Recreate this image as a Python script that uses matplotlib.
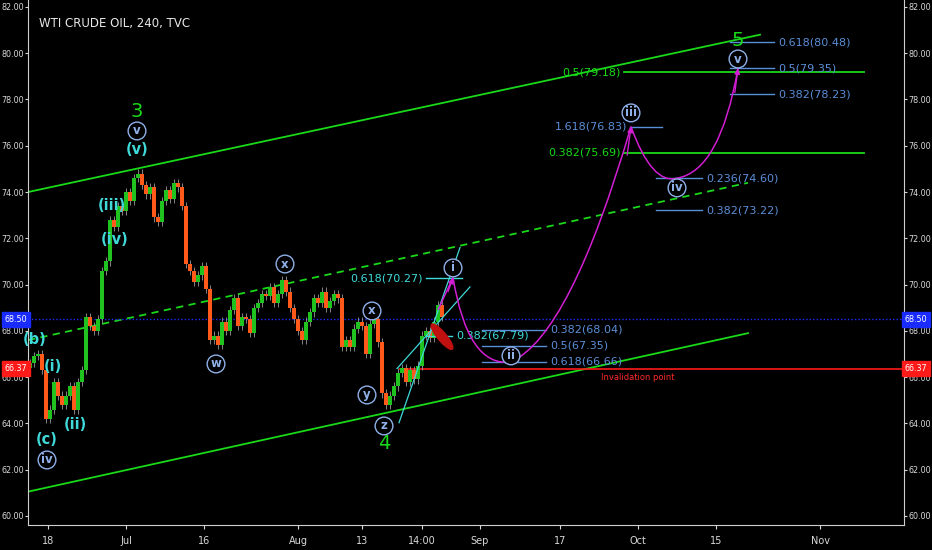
import numpy as np
import matplotlib
matplotlib.use("Agg")
import matplotlib.pyplot as plt
from matplotlib.path import Path
from matplotlib.patches import PathPatch, Ellipse
from matplotlib.transforms import blended_transform_factory

plt.rcParams['font.family'] = ['Liberation Sans Narrow', 'DejaVu Sans']

BG = "#000000"
C_UP = "#1fc21f"
C_DN = "#ff5a1a"
C_WICK = "#9a9a9a"
C_GREEN = "#19d919"
C_CYAN = "#3fd9d9"
C_FIB = "#5a8fd8"
C_WAVE = "#8fb0e8"
C_MAG = "#d21ed2"

# 4h closes, one entry per candle (Jun 18 -> Aug 24)
closes = [66.6, 66.9, 67.0, 66.3, 64.2, 64.6, 65.8, 65.2, 64.8, 65.2,
          65.6, 64.6, 65.8, 66.3, 68.6, 68.2, 68.0, 68.5, 70.6, 71.0,
          72.8, 72.5, 73.4, 73.2, 74.0, 73.6, 74.6, 74.8, 74.3, 73.9,
          74.2, 72.9, 72.7, 73.6, 74.1, 73.7, 74.4, 74.2, 73.4, 70.9,
          70.6, 70.1, 70.4, 70.8, 69.8, 67.6, 67.8, 67.4, 68.4, 68.0,
          68.9, 69.4, 68.2, 68.6, 68.5, 67.9, 69.0, 69.2, 69.6, 69.5,
          69.9, 69.2, 69.6, 70.2, 69.7, 69.0, 68.5, 68.0, 67.6, 68.4,
          68.8, 69.4, 69.2, 69.7, 69.0, 69.3, 69.6, 69.4, 67.3, 67.6,
          67.3, 68.1, 68.4, 68.2, 67.0, 68.3, 68.5, 67.5, 65.3, 64.8,
          65.2, 65.6, 66.2, 66.4, 65.8, 66.3, 65.9, 66.5, 67.8, 68.0,
          67.7, 68.4, 69.1, 68.6]
first_open = 66.4

tick_pos = [4.5, 24, 43.5, 67, 83, 98, 112.5, 132.5, 152, 171.5, 197.5]
tick_lbl = ["18", "Jul", "16", "Aug", "13", "14:00", "Sep", "17", "Oct", "15", "Nov"]

# channel lines (x0, y0, x1, y1)
chan_upper = (-0.5, 74.0, 182.5, 80.8)
chan_lower = (-0.5, 61.05, 179.5, 67.9)
chan_mid = (-0.5, 67.6, 179.5, 74.4)
cyan_a = (92.25, 64.03, 107.5, 71.6)
cyan_b = (91.75, 66.37, 110.0, 69.9)

# projected wave points i, ii, iii, iv, v
proj_x = [105.75, 120.25, 150.25, 161.75, 177.0]
proj_y = [70.3, 66.66, 76.83, 74.6, 79.35]

# fib levels: (x0, x1, price, label, label side, colour)
fibs = [
    (99, 108, 70.27, "0.618(70.27)", "left", C_CYAN),
    (99, 105.5, 67.79, "0.382(67.79)", "right", C_CYAN),
    (113, 129, 68.04, "0.382(68.04)", "right", C_FIB),
    (113, 129, 67.35, "0.5(67.35)", "right", C_FIB),
    (113, 129, 66.66, "0.618(66.66)", "right", C_FIB),
    (150, 158, 76.83, "1.618(76.83)", "left", C_FIB),
    (156.5, 168, 74.60, "0.236(74.60)", "right", C_FIB),
    (156.5, 168, 73.22, "0.382(73.22)", "right", C_FIB),
    (175, 186, 80.48, "0.618(80.48)", "right", C_FIB),
    (175, 186, 79.35, "0.5(79.35)", "right", C_FIB),
    (175, 186, 78.23, "0.382(78.23)", "right", C_FIB),
]
green_levels = [(148.5, 208.5, 75.69, "0.382(75.69)"), (148.5, 208.5, 79.18, "0.5(79.18)")]

# wave labels: (x, price, text, style)
labels = [
    (26.75, 77.46, "3", "big"), (26.75, 76.64, "v", "circ"), (26.75, 75.82, "(v)", "cyan"),
    (20.5, 73.44, "(iii)", "cyan"), (21.25, 71.93, "(iv)", "cyan"),
    (1.25, 67.61, "(b)", "cyan"), (5.75, 66.44, "(i)", "cyan"), (11.25, 63.94, "(ii)", "cyan"),
    (4.25, 63.29, "(c)", "cyan"), (4.25, 62.42, "iv", "circ"),
    (46.5, 66.57, "w", "circ"), (63.75, 70.89, "x", "circ"), (85.5, 68.86, "x", "circ"),
    (84.25, 65.23, "y", "circ"), (88.5, 63.89, "z", "circ"), (88.5, 63.12, "4", "big"),
    (105.75, 70.72, "i", "circ"), (120.25, 66.92, "ii", "circ"), (150.25, 77.42, "iii", "circ"),
    (161.75, 74.18, "iv", "circ"), (177.0, 79.75, "v", "circ"), (177.0, 80.57, "5", "big"),
]

fig = plt.figure(figsize=(9.32, 5.5), dpi=100)
fig.patch.set_facecolor(BG)
ax = fig.add_axes([28 / 932, 25 / 550, 876 / 932, 525 / 550])
ax.set_facecolor(BG)
ax.set_xlim(-0.5, 218.5)
ax.set_ylim(59.61, 82.30)

# candles
opens = [first_open] + closes[:-1]
for i, (o, c) in enumerate(zip(opens, closes)):
    col = C_UP if c >= o else C_DN
    ax.vlines(i, min(o, c) - 0.18, max(o, c) + 0.18, color=C_WICK, lw=0.6, zorder=3)
    ax.bar(i, max(abs(c - o), 0.05), bottom=min(o, c), width=0.8, color=col, zorder=4, linewidth=0)


def seg(line, **kw):
    ax.plot([line[0], line[2]], [line[1], line[3]], **kw)


seg(chan_upper, color=C_GREEN, lw=1.3, zorder=2)
seg(chan_lower, color=C_GREEN, lw=1.3, zorder=2)
seg(chan_mid, color=C_GREEN, lw=1.3, ls=(0, (4, 3)), zorder=2)
seg(cyan_a, color=C_CYAN, lw=0.9, zorder=5)
seg(cyan_b, color=C_CYAN, lw=0.9, zorder=5)

# current price & invalidation
ax.axhline(68.50, color="#1a2bff", lw=1.0, ls=(0, (1, 1.5)), zorder=2)
ax.plot([92.5, 218.5], [66.37, 66.37], color="#ff1a1a", lw=1.2, zorder=2)
ax.text(152, 66.2, "Invalidation point", color="#ff2a2a", fontsize=6, ha="center", va="top")

# fib levels
for x0, x1, p, txt, side, col in fibs:
    ax.plot([x0, x1], [p, p], color=col, lw=1.0, zorder=5)
    if side == "left":
        ax.text(x0 - 0.8, p, txt, color=col, fontsize=8, ha="right", va="center")
    else:
        ax.text(x1 + 1.0, p, txt, color=col, fontsize=8, ha="left", va="center")
for x0, x1, p, txt in green_levels:
    ax.plot([x0, x1], [p, p], color=C_GREEN, lw=1.3, zorder=2)
    ax.text(x0 - 0.8, p, txt, color=C_GREEN, fontsize=8, ha="right", va="center")

# red target ellipse
ax.add_patch(Ellipse((103.0, 67.75), 5.5, 0.55, angle=-10, color="#c01010", zorder=6))

# projected path
px, py = proj_x, proj_y
verts = [(102.0, 68.9), (px[0], py[0]),
         (px[0], py[0]), (109.5, 66.4), (px[1], py[1]),
         (135.0, 67.8), (px[2], py[2]),
         (155.5, 74.3), (px[3], py[3]),
         (172.5, 74.9), (px[4], py[4])]
codes = [Path.MOVETO, Path.LINETO,
         Path.MOVETO, Path.CURVE3, Path.CURVE3,
         Path.CURVE3, Path.CURVE3,
         Path.CURVE3, Path.CURVE3,
         Path.CURVE3, Path.CURVE3]
ax.add_patch(PathPatch(Path(verts, codes), fc="none", ec=C_MAG, lw=1.1, zorder=6))
for (x0, y0), k in [((104.5, 69.7), 0), ((149.3, 75.6), 2), ((176.2, 78.3), 4)]:
    ax.annotate("", xy=(px[k], py[k]), xytext=(x0, y0),
                arrowprops=dict(arrowstyle="-|>", color=C_MAG, lw=1.0, mutation_scale=8,
                                shrinkA=0, shrinkB=0), zorder=7)

# wave labels
for x, p, txt, style in labels:
    if style == "big":
        ax.text(x, p, txt, color=C_GREEN, fontsize=14, ha="center", va="center", zorder=8)
    elif style == "cyan":
        ax.text(x, p, txt, color=C_CYAN, fontsize=10.5, fontweight="bold", ha="center", va="center", zorder=8)
    else:
        ax.text(x, p, txt, color=C_WAVE, fontsize=8.5, fontweight="bold", ha="center", va="center", zorder=8,
                bbox=dict(boxstyle="circle,pad=0.2", fc=BG, ec=C_WAVE, lw=1.0))

ax.text(0.012, 0.955, "WTI CRUDE OIL, 240, TVC", transform=ax.transAxes, color="#e8e8e8",
        fontsize=8.5, ha="left", va="center")

# axes styling
yt = np.arange(60, 83, 2)
ax.set_yticks(yt)
ax.set_yticklabels([f"{v:.2f}" for v in yt])
ax.set_xticks(tick_pos)
ax.set_xticklabels(tick_lbl)
ax.tick_params(axis="y", left=True, right=True, labelleft=True, labelright=True,
               colors="#d8d8d8", labelsize=5.8, length=2, pad=1)
ax.tick_params(axis="x", colors="#d8d8d8", labelsize=7, length=3, pad=5)
for s in ax.spines.values():
    s.set_color("#cfcfcf")
ax.spines["top"].set_visible(False)

# price tags on both scales
tr = blended_transform_factory(ax.transAxes, ax.transData)
for p, col in [(68.50, "#1a2bff"), (66.37, "#ff1a1a")]:
    for xa, ha in [(-0.001, "right"), (1.001, "left")]:
        ax.text(xa, p, f"{p:.2f}", transform=tr, color="white", fontsize=5.8, ha=ha, va="center",
                zorder=10, clip_on=False,
                bbox=dict(boxstyle="square,pad=0.35", fc=col, ec=col))

fig.savefig("out.png", dpi=100, facecolor=BG)
